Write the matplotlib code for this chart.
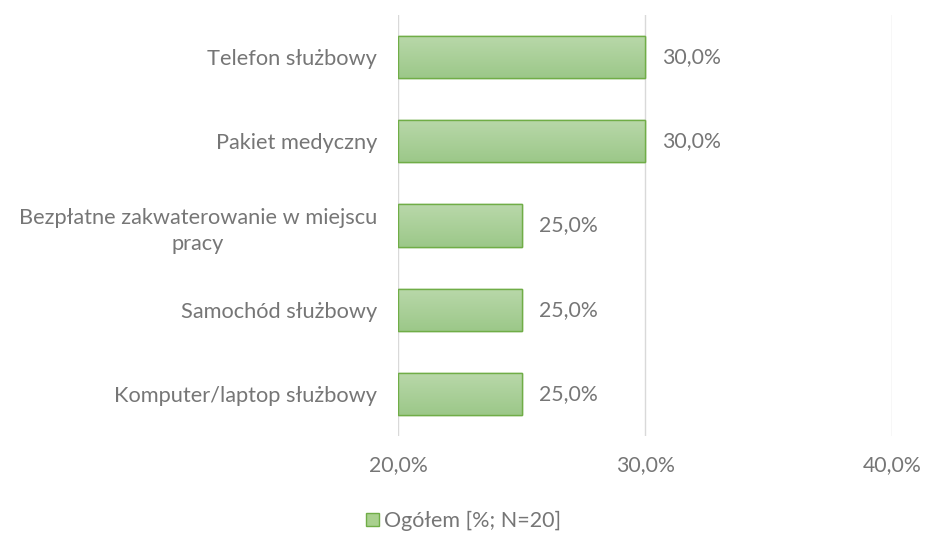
import matplotlib
matplotlib.use("Agg")
import matplotlib.pyplot as plt
import numpy as np
from matplotlib.patches import Patch
from matplotlib.colors import LinearSegmentedColormap

categories = ["Telefon służbowy", "Pakiet medyczny",
              "Bezpłatne zakwaterowanie w miejscu\npracy",
              "Samochód służbowy", "Komputer/laptop służbowy"]
values = [30.0, 30.0, 25.0, 25.0, 25.0]
xticks = [20, 30, 40]
legend_label = "Ogółem [%; N=20]"

plt.rcParams['font.family'] = ['Lato', 'DejaVu Sans']
gray = "#767676"

fig = plt.figure(figsize=(9.27, 5.33), dpi=100)
ax = fig.add_axes([398/927, 1-436/533, (892-398)/927, (436-15)/533])
y = np.arange(len(categories))
bars = ax.barh(y, [v - 20 for v in values], left=20, height=0.5,
               color="#a9d08e", edgecolor="#70ad47", linewidth=1.0, zorder=3)
ax.set_xlim(20, 40)
ax.set_ylim(len(categories) - 0.5, -0.5)

grad = np.linspace(0, 1, 100).reshape(-1, 1)
cmap = LinearSegmentedColormap.from_list("g", ["#b9d8aa", "#9cc889"])
for b in bars:
    x0, y0 = b.get_x(), b.get_y()
    w, h = b.get_width(), b.get_height()
    im = ax.imshow(grad, extent=[x0, x0 + w, y0 + h, y0], aspect='auto',
                   cmap=cmap, zorder=3.5, origin='upper')
    im.set_clip_path(b)
    ax.add_patch(plt.Rectangle((x0, y0), w, h, fill=False,
                               edgecolor="#70ad47", linewidth=1.0, zorder=4))

for yi, v in zip(y, values):
    ax.text(v + 0.7, yi, f"{v:.1f}%".replace(".", ","), va='center', ha='left',
            fontsize=15.3, color=gray)

ax.set_yticks(y)
ax.set_yticklabels(categories, fontsize=15.7, color=gray, ha='right',
                   multialignment='center', linespacing=1.38)
ax.tick_params(axis='y', length=0, pad=15)
ax.set_xticks(xticks)
ax.set_xticklabels([f"{t:.1f}%".replace(".", ",") for t in xticks],
                   fontsize=15.3, color=gray)
ax.tick_params(axis='x', length=0, pad=14)
ax.grid(axis='x', color="#d9d9d9", linewidth=1.0, zorder=0)
for s in ax.spines.values():
    s.set_visible(False)

fig.legend(handles=[Patch(facecolor="#a9d08e", edgecolor="#70ad47")],
           labels=[legend_label], loc='center', bbox_to_anchor=(0.5, 1-521/533),
           frameon=False, fontsize=15.5, labelcolor=gray, handlelength=0.6,
           handleheight=0.6, handletextpad=0.25)

fig.savefig("out.png", dpi=100)
